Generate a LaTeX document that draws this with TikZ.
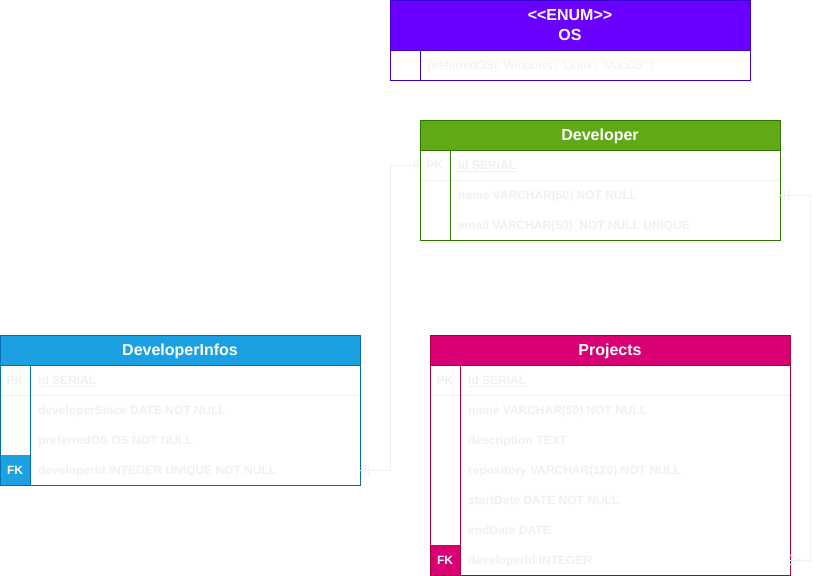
\documentclass[tikz,border=0pt]{standalone}
\usepackage{fontspec}
\setmainfont{Liberation Sans}[Ligatures=TeXOff]
\definecolor{txt}{HTML}{F0F0F0}
\definecolor{osfill}{HTML}{6A00FF}
\definecolor{osline}{HTML}{3700CC}
\definecolor{devfill}{HTML}{60A917}
\definecolor{devline}{HTML}{2D7600}
\definecolor{infofill}{HTML}{1BA1E2}
\definecolor{infoline}{HTML}{006EAF}
\definecolor{projfill}{HTML}{D80073}
\definecolor{projline}{HTML}{A50040}
\begin{document}
\begin{tikzpicture}[x=1pt,y=-1pt,
  tbl/.style={minimum width=360pt,minimum height=30pt,inner sep=0pt,outer sep=0pt,anchor=north west},
  hdr/.style={tbl,line width=1pt,text=white,font=\bfseries\fontsize{16}{20}\selectfont,text height=11.5pt,text depth=0pt},
  fld/.style={anchor=base west,inner sep=0pt,text=txt,font=\bfseries\fontsize{12}{14}\selectfont},
  fldr/.style={fld,font=\fontsize{12}{14}\selectfont},
  keyl/.style={anchor=base,inner sep=0pt,text=txt,font=\bfseries\fontsize{12}{14}\selectfont},
  keyw/.style={keyl,text=white},
  sepl/.style={draw=txt,line width=1pt},
  conn/.style={draw=txt,line width=1pt},
  frame/.style={line width=1pt}
]
\useasboundingbox (0,0) rectangle (820,576);

% ---------- OS enum ----------
\node[hdr,fill=osfill,draw=osline,minimum height=50pt,align=center,text height=,text depth=] (os) at (390,0) {<<ENUM>>\\OS};
\node[tbl] (os1) at (390,50) {};
\draw[frame,osline] ([xshift=30pt]os1.north west) -- ([xshift=30pt]os1.south west);
\draw[frame,osline] (os.north west) rectangle (os1.south east);
\node[fldr] (os1t) at ([xshift=38pt,yshift=-4.3pt]os1.west) {preferredOS( 'Windows', 'Linux', 'MacOS' )};

% ---------- Developer ----------
\node[hdr,fill=devfill,draw=devline] (dev) at (420,120) {Developer};
\node[tbl] (dev1) at (420,150) {};
\node[tbl] (dev2) at (420,180) {};
\node[tbl] (dev3) at (420,210) {};
\draw[sepl] (dev1.south west) -- (dev1.south east);
\draw[frame,devline] ([xshift=30pt]dev1.north west) -- ([xshift=30pt]dev3.south west);
\draw[frame,devline] (dev.north west) rectangle (dev3.south east);
\node[keyl] (dev1k) at ([xshift=15pt,yshift=-4.3pt]dev1.west) {PK};
\node[fld] (dev1t) at ([xshift=38pt,yshift=-4.3pt]dev1.west) {\underline{id SERIAL}};
\node[fld] (dev2t) at ([xshift=38pt,yshift=-4.3pt]dev2.west) {name VARCHAR(50) NOT NULL};
\node[fld] (dev3t) at ([xshift=38pt,yshift=-4.3pt]dev3.west) {email VARCHAR(50)\ \ NOT NULL UNIQUE};

% ---------- DeveloperInfos ----------
\node[hdr,fill=infofill,draw=infoline] (info) at (0,335) {DeveloperInfos};
\node[tbl] (info1) at (0,365) {};
\node[tbl] (info2) at (0,395) {};
\node[tbl] (info3) at (0,425) {};
\node[tbl] (info4) at (0,455) {};
\fill[infofill] (info4.north west) rectangle ([xshift=30pt]info4.south west);
\draw[sepl] (info1.south west) -- (info1.south east);
\draw[frame,infoline] ([xshift=30pt]info1.north west) -- ([xshift=30pt]info4.south west);
\draw[frame,infoline] (info.north west) rectangle (info4.south east);
\node[keyl] (info1k) at ([xshift=15pt,yshift=-4.3pt]info1.west) {PK};
\node[keyw] (info4k) at ([xshift=15pt,yshift=-4.3pt]info4.west) {FK};
\node[fld] (info1t) at ([xshift=38pt,yshift=-4.3pt]info1.west) {\underline{id SERIAL}};
\node[fld] (info2t) at ([xshift=38pt,yshift=-4.3pt]info2.west) {developerSince DATE NOT NULL};
\node[fld] (info3t) at ([xshift=38pt,yshift=-4.3pt]info3.west) {preferredOS OS NOT NULL};
\node[fld] (info4t) at ([xshift=38pt,yshift=-4.3pt]info4.west) {developerId INTEGER UNIQUE NOT NULL};

% ---------- Projects ----------
\node[hdr,fill=projfill,draw=projline] (proj) at (430,335) {Projects};
\node[tbl] (proj1) at (430,365) {};
\node[tbl] (proj2) at (430,395) {};
\node[tbl] (proj3) at (430,425) {};
\node[tbl] (proj4) at (430,455) {};
\node[tbl] (proj5) at (430,485) {};
\node[tbl] (proj6) at (430,515) {};
\node[tbl] (proj7) at (430,545) {};
\fill[projfill] (proj7.north west) rectangle ([xshift=30pt]proj7.south west);
\draw[sepl] (proj1.south west) -- (proj1.south east);
\draw[frame,projline] ([xshift=30pt]proj1.north west) -- ([xshift=30pt]proj7.south west);
\draw[frame,projline] (proj.north west) rectangle (proj7.south east);
\node[keyl] (proj1k) at ([xshift=15pt,yshift=-4.3pt]proj1.west) {PK};
\node[keyw] (proj7k) at ([xshift=15pt,yshift=-4.3pt]proj7.west) {FK};
\node[fld] (proj1t) at ([xshift=38pt,yshift=-4.3pt]proj1.west) {\underline{id SERIAL}};
\node[fld] (proj2t) at ([xshift=38pt,yshift=-4.3pt]proj2.west) {name VARCHAR(50) NOT NULL};
\node[fld] (proj3t) at ([xshift=38pt,yshift=-4.3pt]proj3.west) {description TEXT};
\node[fld] (proj4t) at ([xshift=38pt,yshift=-4.3pt]proj4.west) {repository VARCHAR(120) NOT NULL};
\node[fld] (proj5t) at ([xshift=38pt,yshift=-4.3pt]proj5.west) {startDate DATE NOT NULL};
\node[fld] (proj6t) at ([xshift=38pt,yshift=-4.3pt]proj6.west) {endDate DATE};
\node[fld] (proj7t) at ([xshift=38pt,yshift=-4.3pt]proj7.west) {developerId INTEGER};

% ---------- connectors ----------
\draw[conn] (dev1.west) -- ++(-30,0) |- (info4.east);
\foreach \d in {3,6}
  \draw[conn] ([xshift=-\d pt,yshift=5pt]dev1.west) -- ([xshift=-\d pt,yshift=-5pt]dev1.west);
\foreach \d in {5,8}
  \draw[conn] ([xshift=\d pt,yshift=5pt]info4.east) -- ([xshift=\d pt,yshift=-5pt]info4.east);

\draw[conn] (dev2.east) -- ++(30,0) |- (proj7.east);
\foreach \d in {4,8}
  \draw[conn] ([xshift=\d pt,yshift=5pt]dev2.east) -- ([xshift=\d pt,yshift=-5pt]dev2.east);
\draw[conn] ([yshift=5pt]proj7.east) -- ([xshift=10pt]proj7.east) -- ([yshift=-5pt]proj7.east);
\end{tikzpicture}
\end{document}
